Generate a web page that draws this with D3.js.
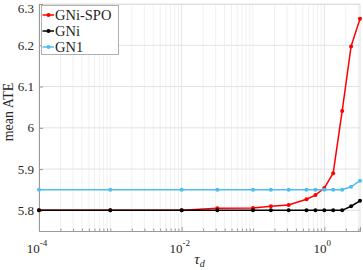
<!DOCTYPE html>
<html>
<head>
<meta charset="utf-8">
<script src="https://cdn.jsdelivr.net/npm/d3@7"></script>
<style>
  body { margin: 0; background: #fff; }
</style>
</head>
<body>
<div id="chart"></div>
<script>

// tau_d values (log spaced)
var tauD = [1e-4, 1e-3, 1e-2, 0.0316, 0.1, 0.178, 0.316, 0.562, 0.75, 1, 1.33, 1.78, 2.37, 3.16];

var gniSpo = [5.800, 5.800, 5.800, 5.805, 5.806, 5.810, 5.813, 5.827, 5.837, 5.854, 5.890, 6.041, 6.197, 6.264];
var gni    = [5.800, 5.800, 5.800, 5.800, 5.800, 5.800, 5.800, 5.800, 5.800, 5.800, 5.800, 5.800, 5.810, 5.823];
var gn1    = [5.850, 5.850, 5.850, 5.850, 5.850, 5.850, 5.850, 5.850, 5.850, 5.850, 5.850, 5.850, 5.857, 5.872];

var seriesNames = ['GNi-SPO', 'GNi', 'GN1'];
var colors = ['#ff0000', '#000000', '#4dbeee'];

var yTicks = [5.8, 5.9, 6, 6.1, 6.2, 6.3];
var xMajorExp = [-4, -2, 0];

var serif = '"Liberation Serif", "DejaVu Serif", serif';

var width = 363,
    height = 270,
    margin = {top: 4, right: 3, bottom: 39, left: 39};

var innerW = width - margin.left - margin.right,
    innerH = height - margin.top - margin.bottom;

var xScale = d3.scaleLog().domain([1e-4, Math.pow(10, 0.5)]).range([0, innerW]);
var yScale = d3.scaleLinear().domain([5.75, 6.3]).range([innerH, 0]);

var svg = d3.select('#chart').append('svg')
    .attr('width', width)
    .attr('height', height)
    .attr('font-family', serif);

var g = svg.append('g')
    .attr('transform', 'translate(' + margin.left + ',' + margin.top + ')');

// minor ticks: 2..9 per decade, plus the odd decades
var minor = [];
for (var e = -4; e <= 0; e++) {
    for (var m = 1; m <= 9; m++) {
        var v = m * Math.pow(10, e);
        if (v > xScale.domain()[1]) continue;
        if (m === 1 && xMajorExp.indexOf(e) >= 0) continue;
        minor.push(v);
    }
}
var majors = xMajorExp.map(function (e) { return Math.pow(10, e); });

// grid
g.append('g').selectAll('line').data(minor).enter().append('line')
    .attr('x1', function (d) { return xScale(d); })
    .attr('x2', function (d) { return xScale(d); })
    .attr('y1', 0).attr('y2', innerH)
    .style('stroke', '#f1f1f1').style('stroke-width', 1);

g.append('g').selectAll('line').data(majors).enter().append('line')
    .attr('x1', function (d) { return xScale(d); })
    .attr('x2', function (d) { return xScale(d); })
    .attr('y1', 0).attr('y2', innerH)
    .style('stroke', '#e3e3e3').style('stroke-width', 1);

g.append('g').selectAll('line').data(yTicks).enter().append('line')
    .attr('x1', 0).attr('x2', innerW)
    .attr('y1', function (d) { return yScale(d); })
    .attr('y2', function (d) { return yScale(d); })
    .style('stroke', '#e3e3e3').style('stroke-width', 1);

// box top / right
g.append('path')
    .attr('d', 'M0,0.5H' + innerW + 'V' + innerH)
    .style('fill', 'none').style('stroke', '#e0e0e0');

// axes
var xAxis = d3.axisBottom(xScale).tickValues(majors).tickSize(-4).tickFormat('');
var xMinorAxis = d3.axisBottom(xScale).tickValues(minor).tickSize(-2.5).tickFormat('');
var yAxis = d3.axisLeft(yScale).tickValues(yTicks).tickSize(-4).tickFormat('');

g.append('g').attr('class', 'axis').attr('transform', 'translate(0,' + innerH + ')').call(xMinorAxis);
g.append('g').attr('class', 'axis').attr('transform', 'translate(0,' + innerH + ')').call(xAxis);
g.append('g').attr('class', 'axis').call(yAxis);
g.selectAll('.axis path, .axis line').style('stroke', '#9a9a9a');

// y tick labels (top one pushed down to stay inside, as in the original)
g.append('g').selectAll('text').data(yTicks).enter().append('text')
    .attr('x', -5)
    .attr('y', function (d) { return Math.max(yScale(d), 4); })
    .attr('dy', '0.35em')
    .attr('text-anchor', 'end')
    .attr('font-family', serif)
    .style('font-size', '13px')
    .style('fill', '#262626')
    .text(function (d) { return d3.format('')(d); });

// x tick labels 10^e
var xl = g.append('g').selectAll('text').data(xMajorExp).enter().append('text')
    .attr('x', function (d) { return xScale(Math.pow(10, d)) - 2; })
    .attr('y', innerH + 22)
    .attr('text-anchor', 'middle')
    .attr('font-family', serif)
    .style('font-size', '13px')
    .style('fill', '#262626');
xl.append('tspan').text('10');
xl.append('tspan').attr('dy', -7).style('font-size', '9px')
    .text(function (d) { return d === 0 ? '0' : '-' + Math.abs(d); });

// axis labels
var xLab = g.append('text')
    .attr('x', innerW / 2)
    .attr('y', innerH + 33)
    .attr('text-anchor', 'middle')
    .attr('font-family', serif)
    .style('font-size', '15px')
    .style('font-style', 'italic')
    .style('fill', '#262626');
xLab.append('tspan').text('τ');
xLab.append('tspan').attr('dy', 3).style('font-size', '10px').text('d');

g.append('text')
    .attr('transform', 'translate(' + (13 - margin.left) + ',' + (112 - margin.top) + ') rotate(-90)')
    .attr('text-anchor', 'middle')
    .attr('font-family', serif)
    .style('font-size', '14px')
    .style('fill', '#262626')
    .text('mean ATE');

// lines, plotted in legend order (cyan ends on top)
var data = [gniSpo, gni, gn1];
var line = d3.line()
    .x(function (d, i) { return xScale(tauD[i]); })
    .y(function (d) { return yScale(d); });

data.forEach(function (vals, k) {
    var s = g.append('g');
    s.append('path')
        .datum(vals)
        .attr('d', line)
        .style('fill', 'none')
        .style('stroke', colors[k])
        .style('stroke-width', 1.5);
    s.selectAll('circle').data(vals).enter().append('circle')
        .attr('cx', function (d, i) { return xScale(tauD[i]); })
        .attr('cy', function (d) { return yScale(d); })
        .attr('r', 2)
        .style('fill', colors[k]);
});

// legend
var leg = svg.append('g').attr('transform', 'translate(41,5)');
leg.append('rect')
    .attr('x', 0.5).attr('y', 0.5)
    .attr('width', 77).attr('height', 49)
    .style('fill', '#fff').style('stroke', '#b0b0b0').style('stroke-width', 1);

var items = leg.selectAll('.item').data(seriesNames).enter().append('g')
    .attr('class', 'item')
    .attr('transform', function (d, i) { return 'translate(0,' + (10 + i * 16) + ')'; });
items.append('line')
    .attr('x1', 1.5).attr('x2', 13)
    .style('stroke', function (d, i) { return colors[i]; })
    .style('stroke-width', 1.5);
items.append('circle')
    .attr('cx', 7.5).attr('r', 2)
    .style('fill', function (d, i) { return colors[i]; });
items.append('text')
    .attr('x', 14)
    .attr('dy', '0.35em')
    .attr('font-family', serif)
    .style('font-size', '14.5px')
    .style('fill', '#262626')
    .text(function (d) { return d; });

</script>
</body>
</html>
